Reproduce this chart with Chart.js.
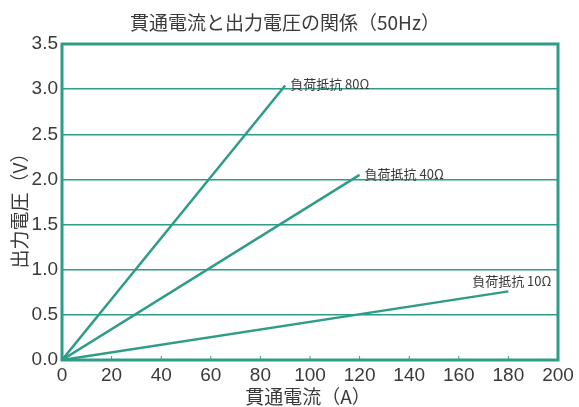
<!DOCTYPE html>
<html>
<head>
<meta charset="utf-8">
<script src="https://cdn.jsdelivr.net/npm/chart.js@4/dist/chart.umd.min.js"></script>
<style>
  body { margin: 0; background: #fff; }
  #wrap { width: 579px; height: 407px; }
</style>
</head>
<body>
<div id="wrap"><canvas id="canvas"></canvas></div>
<script>
const titleText = "貫通電流と出力電圧の関係（50Hz）";
const xTitle = "貫通電流（A）";
const yTitle = "出力電圧（V）";

// each line starts at the origin and ends at the last point
const seriesNames = ["負荷抵抗 80Ω", "負荷抵抗 40Ω", "負荷抵抗 10Ω"];
const currentEnd = [90, 120, 180];
const voltageEnd = [3.04, 2.05, 0.76];

const teal = "#2f9c88";
const textColor = "#3a3a3a";
const numFont = "'Liberation Sans', Arial, sans-serif";
const jpFont = "'Noto Sans CJK JP', sans-serif";

const datasets = [];
for (let i = 0; i < seriesNames.length; i++) {
    datasets.push({
        label: seriesNames[i],
        data: [{x: 0, y: 0}, {x: currentEnd[i], y: voltageEnd[i]}],
        borderColor: teal,
        borderWidth: 2.5,
        pointRadius: 0,
        fill: false
    });
}

const framePlugin = {
    id: "frame",
    afterDraw(chart) {
        const ctx = chart.ctx;
        const a = chart.chartArea;
        const xs = chart.scales.x;
        const ys = chart.scales.y;
        ctx.save();
        // small tick marks inside the bottom edge
        ctx.strokeStyle = teal;
        ctx.lineWidth = 1;
        for (let v = 20; v < 200; v += 20) {
            const px = xs.getPixelForValue(v);
            ctx.beginPath();
            ctx.moveTo(px, a.bottom);
            ctx.lineTo(px, a.bottom - 4);
            ctx.stroke();
        }
        ctx.lineWidth = 3;
        ctx.strokeRect(a.left, a.top, a.right - a.left, a.bottom - a.top);

        ctx.fillStyle = textColor;
        ctx.textBaseline = "middle";

        // title and axis titles
        ctx.textAlign = "center";
        ctx.font = "19px " + jpFont;
        ctx.fillText(titleText, 285, 23);
        ctx.fillText(xTitle, (a.left + a.right) / 2 - 2, 397);
        ctx.save();
        ctx.translate(20, (a.top + a.bottom) / 2 + 4);
        ctx.rotate(-Math.PI / 2);
        ctx.fillText(yTitle, 0, 0);
        ctx.restore();

        // line labels next to each end point
        ctx.font = "13px " + jpFont;
        chart.data.datasets.forEach((ds, i) => {
            const p = ds.data[1];
            const px = xs.getPixelForValue(p.x);
            const py = ys.getPixelForValue(p.y);
            if (i === 2) {
                ctx.textAlign = "right";
                ctx.fillText(ds.label, px + 43, py - 10);
            } else {
                ctx.textAlign = "left";
                ctx.fillText(ds.label, px + 5, py - 1);
            }
        });
        ctx.restore();
    }
};

new Chart(document.getElementById("canvas"), {
    type: "line",
    data: { datasets: datasets },
    options: {
        responsive: true,
        maintainAspectRatio: false,
        animation: false,
        layout: { padding: { left: 0, right: 21, top: 44, bottom: 0 } },
        plugins: {
            legend: { display: false },
            tooltip: { enabled: false },
            title: { display: false }
        },
        scales: {
            x: {
                type: "linear",
                min: 0,
                max: 200,
                afterFit: s => { s.height = 47; },
                ticks: { stepSize: 20, color: textColor, font: { family: numFont, size: 19 }, padding: -4 },
                grid: { display: false },
                border: { display: false }
            },
            y: {
                min: 0,
                max: 3.5,
                afterFit: s => { s.width = 62; },
                ticks: {
                    stepSize: 0.5,
                    color: textColor,
                    font: { family: numFont, size: 19 },
                    padding: 4,
                    callback: v => v.toFixed(1)
                },
                grid: { color: teal, lineWidth: 1.5, drawTicks: false },
                border: { display: false }
            }
        }
    },
    plugins: [framePlugin]
});
</script>
</body>
</html>
